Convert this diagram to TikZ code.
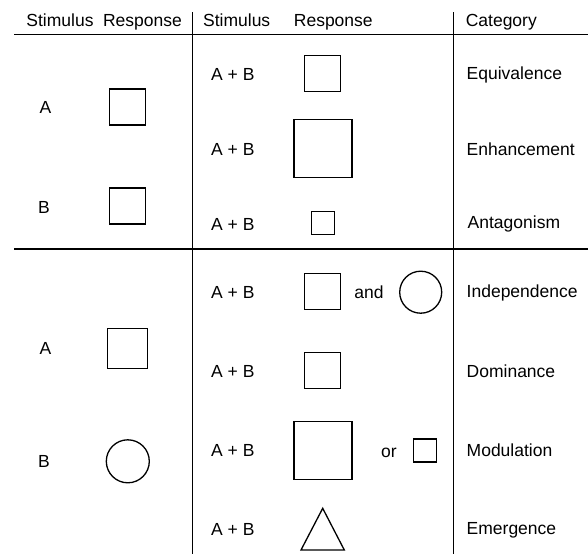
\documentclass[tikz,border=0pt]{standalone}
\usepackage{fontspec}
\setmainfont{Liberation Sans}
\begin{document}
\begin{tikzpicture}[x=1pt,y=-1pt,
  txt/.style={inner sep=0pt,font=\fontsize{17.5}{21}\selectfont},
  shp/.style={draw,line width=1.3pt,inner sep=0pt},
  sq/.style={shp,rectangle,minimum width=#1,minimum height=#1},
  circ/.style={shp,circle,minimum size=#1},
  rule/.style={line width=1.8pt},
  vrule/.style={line width=1.4pt}]
\useasboundingbox (0,0) rectangle (588,554);
% rules
\coordinate (h1a) at (14,34.5); \coordinate (h1b) at (588,34.5);
\coordinate (h2a) at (14,249); \coordinate (h2b) at (588,249);
\coordinate (v1a) at (192.3,12); \coordinate (v1b) at (192.3,554);
\coordinate (v2a) at (453.3,12); \coordinate (v2b) at (453.3,554);
\draw[rule] (h1a) -- (h1b);
\draw[rule] (h2a) -- (h2b);
\draw[vrule] (v1a) -- (v1b);
\draw[vrule] (v2a) -- (v2b);
% headers
\node[txt,anchor=base] (hs1) at (60,26) {Stimulus};
\node[txt,anchor=base] (hr1) at (142.5,26) {Response};
\node[txt,anchor=base] (hs2) at (236.7,26) {Stimulus};
\node[txt,anchor=base] (hr2) at (333.3,26) {Response};
\node[txt,anchor=base] (hc) at (501.3,26) {Category};
% upper left
\node[txt,anchor=base] (ua) at (45.5,113.5) {A};
\node[sq=36pt] (uasq) at (127.5,107) {};
\node[txt,anchor=base] (ub) at (44,213.3) {B};
\node[sq=36pt] (ubsq) at (127.5,206) {};
% upper middle
\node[txt,anchor=base west] (ab1) at (211,80.3) {A + B};
\node[txt,anchor=base west] (ab2) at (211,155.3) {A + B};
\node[txt,anchor=base west] (ab3) at (211,230.3) {A + B};
\node[sq=36pt] (eqsq) at (322.5,73.5) {};
\node[sq=58pt] (ensq) at (323,148.3) {};
\node[sq=23pt] (ansq) at (323,223) {};
\node[txt,anchor=base west] (ceq) at (466.5,79.3) {Equivalence};
\node[txt,anchor=base west] (cen) at (466.5,155.3) {Enhancement};
\node[txt,anchor=base west] (can) at (467.5,228) {Antagonism};
% lower left
\node[txt,anchor=base] (la) at (45.5,354.5) {A};
\node[sq=40pt] (lasq) at (127.7,348.3) {};
\node[txt,anchor=base] (lb) at (44,467) {B};
\node[circ=43pt] (lbci) at (127.8,461.3) {};
% lower middle
\node[txt,anchor=base west] (ab4) at (211,298) {A + B};
\node[txt,anchor=base west] (ab5) at (211,377.3) {A + B};
\node[txt,anchor=base west] (ab6) at (211,456.5) {A + B};
\node[txt,anchor=base west] (ab7) at (211,535.6) {A + B};
\node[sq=36pt] (insq) at (322.5,291.3) {};
\node[txt,anchor=base] (and) at (369,298.3) {and};
\node[circ=42pt] (inci) at (420.7,292.2) {};
\node[sq=36pt] (dosq) at (322.5,370.5) {};
\node[sq=58pt] (mosq) at (323,450.5) {};
\node[txt,anchor=base] (or) at (389,457.5) {or};
\node[sq=23pt] (mosm) at (425.3,450.5) {};
\coordinate (t1) at (322.7,508.3);
\coordinate (t2) at (344.3,550);
\coordinate (t3) at (301,550);
\draw[line width=1.3pt,line join=miter] (t1) -- (t2) -- (t3) -- cycle;
\node[txt,anchor=base west] (cin) at (466.5,297) {Independence};
\node[txt,anchor=base west] (cdo) at (466.5,377.3) {Dominance};
\node[txt,anchor=base west] (cmo) at (466.5,456.7) {Modulation};
\node[txt,anchor=base west] (cem) at (466.5,534.3) {Emergence};
\end{tikzpicture}
\end{document}
